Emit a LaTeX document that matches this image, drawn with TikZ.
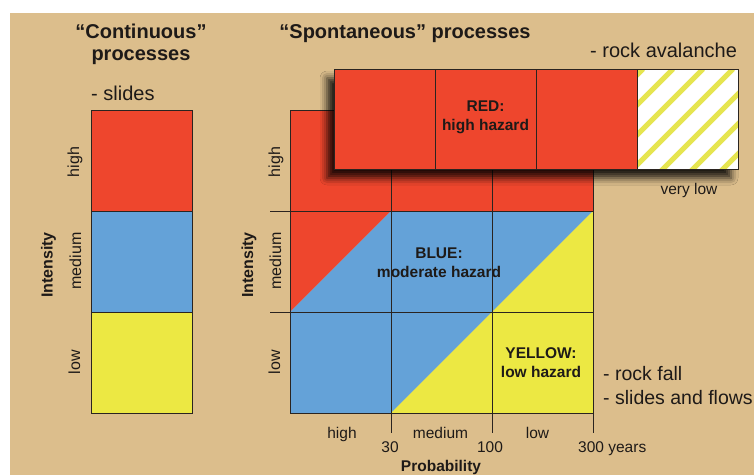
\documentclass[tikz,border=0pt]{standalone}
\usepackage{fontspec}
\setmainfont{Liberation Sans}
\usetikzlibrary{positioning,shadows.blur}
\definecolor{Sand}{HTML}{DCBE8C}
\definecolor{Ink}{HTML}{1E1A18}
\definecolor{GridInk}{HTML}{2A2420}
\definecolor{HazardRed}{HTML}{EE462D}
\definecolor{HazardBlue}{HTML}{64A2D8}
\definecolor{HazardYellow}{HTML}{ECE843}
\definecolor{StripeYellow}{HTML}{E6E550}
\tikzset{
  hazard cell/.style={minimum width=101pt, minimum height=101pt, inner sep=0pt, outer sep=0pt},
  grid line/.style={draw=GridInk, line width=0.9pt},
  avalanche box/.style={draw=GridInk, line width=0.9pt, fill=HazardRed,
    minimum width=404pt, minimum height=100pt, inner sep=0pt, outer sep=0pt,
    blur shadow={shadow xshift=-7pt, shadow yshift=-9pt, shadow blur radius=7pt, shadow opacity=85}},
  stripe cell/.style={draw=GridInk, line width=0.9pt, fill=white,
    minimum width=101pt, minimum height=100pt, inner sep=0pt, outer sep=0pt,
    path picture={
      \foreach \k in {0,...,6}
        \draw[StripeYellow, line width=5pt]
          ([xshift=6pt+\k*30pt]path picture bounding box.north west) -- ++(-104pt,-104pt);
    }},
  title text/.style={font=\bfseries\fontsize{20}{22}\selectfont, align=center, text=Ink, inner sep=0pt},
  process text/.style={font=\fontsize{20}{24}\selectfont, align=left, text=Ink, inner sep=0pt},
  level text/.style={font=\fontsize{15.5}{17}\selectfont, text=Ink, inner sep=0pt},
  side text/.style={font=\fontsize{16}{17}\selectfont, text=Ink, inner sep=0pt, rotate=90},
  axis title/.style={font=\bfseries\fontsize{15.5}{17}\selectfont, text=Ink, inner sep=0pt},
  zone text/.style={font=\bfseries\fontsize{15.5}{19}\selectfont, align=center, text=Ink, inner sep=0pt},
}

\begin{document}
\begin{tikzpicture}[x=1pt, y=-1pt]
  \useasboundingbox (0,0) rectangle (754,475);
  \clip (0,0) rectangle (754,475);
  \fill[white] (0,0) rectangle (754,475);
  \fill[Sand] (10,13) rectangle (754,475);

  % Titles.
  \node[title text, anchor=base] (contTitle) at (141,60) {“Continuous”\\processes};
  \node[title text, anchor=base] (spontTitle) at (405,38) {“Spontaneous” processes};

  % Continuous processes: one column of intensity classes.
  \node[hazard cell, grid line, fill=HazardRed] (contHigh) at (141.5,160.5) {};
  \node[hazard cell, grid line, fill=HazardBlue, below=0pt of contHigh] (contMedium) {};
  \node[hazard cell, grid line, fill=HazardYellow, below=0pt of contMedium] (contLow) {};
  \node[process text, anchor=base west] (slides) at (91,100) {- slides};

  \node[side text, anchor=base] (contHighLabel) at (79,162) {high};
  \node[side text, anchor=base] (contMediumLabel) at (81,261) {medium};
  \node[side text, anchor=base] (contLowLabel) at (80,362) {low};
  \node[axis title, rotate=90, anchor=base, font=\bfseries\fontsize{16}{17}\selectfont] (contIntensity) at (52.5,265) {Intensity};

  % Spontaneous processes: intensity against probability.
  \node[hazard cell] (g11) at (340.5,160.5) {};
  \node[hazard cell, right=0pt of g11] (g12) {};
  \node[hazard cell, right=0pt of g12] (g13) {};
  \node[hazard cell, below=0pt of g11] (g21) {};
  \node[hazard cell, right=0pt of g21] (g22) {};
  \node[hazard cell, right=0pt of g22] (g23) {};
  \node[hazard cell, below=0pt of g21] (g31) {};
  \node[hazard cell, right=0pt of g31] (g32) {};
  \node[hazard cell, right=0pt of g32] (g33) {};

  \fill[HazardRed] (g11.north west) -- (g13.north east) -- (g13.south east)
    -- (g22.north west) -- (g21.south west) -- cycle;
  \fill[HazardBlue] (g21.south west) -- (g22.north west) -- (g23.north east)
    -- (g32.south west) -- (g31.south west) -- cycle;
  \fill[HazardYellow] (g23.north east) -- (g33.south east) -- (g32.south west) -- cycle;

  \draw[grid line] (g11.north west) rectangle (g33.south east);
  \draw[grid line] ([xshift=-20pt]g21.north west) -- (g23.north east);
  \draw[grid line] ([xshift=-20pt]g31.north west) -- (g33.north east);
  \draw[grid line] (g12.north west) -- ([yshift=-20pt]g32.south west);
  \draw[grid line] (g13.north west) -- ([yshift=-20pt]g33.south west);
  \draw[grid line] (g13.north east) -- ([yshift=-20pt]g33.south east);

  \node[zone text, anchor=base] (blueLabel) at (439,277) {BLUE:\\moderate hazard};
  \node[zone text, anchor=base] (yellowLabel) at (541,377) {YELLOW:\\low hazard};

  \node[side text, anchor=base] (highLabel) at (280,162) {high};
  \node[side text, anchor=base] (mediumLabel) at (281,261) {medium};
  \node[side text, anchor=base] (lowLabel) at (280,362) {low};
  \node[axis title, rotate=90, anchor=base, font=\bfseries\fontsize{16}{17}\selectfont] (intensity) at (253,265) {Intensity};

  \node[level text, anchor=base] (probHigh) at (342,438) {high};
  \node[level text, anchor=base] (probMedium) at (440.5,438) {medium};
  \node[level text, anchor=base] (probLow) at (537.5,438) {low};
  \node[level text, anchor=base] (years30) at (390,452) {30};
  \node[level text, anchor=base] (years100) at (490,452) {100};
  \node[level text, anchor=base west] (years300) at (578,452) {300 years};
  \node[axis title, anchor=base] (probability) at (441,471) {Probability};

  \node[process text, anchor=base west, font=\fontsize{19.5}{24}\selectfont] (rockFall) at (603,404) {- rock fall\\- slides and flows};

  % Rock avalanche row lifted above the matrix.
  \node[avalanche box] (avalanche) at (536,119) {};
  \draw[grid line] ([xshift=101pt]avalanche.north west) -- ([xshift=101pt]avalanche.south west);
  \draw[grid line] ([xshift=202pt]avalanche.north west) -- ([xshift=202pt]avalanche.south west);
  \node[stripe cell] (veryLowCell) at ([xshift=-50.5pt]avalanche.east) {};
  \node[zone text, anchor=base] (redLabel) at (485.5,130) {RED:\\high hazard};
  \node[process text, anchor=base west] (rockAvalanche) at (590,57) {- rock avalanche};
  \node[level text, anchor=base] (veryLow) at (689,194) {very low};
\end{tikzpicture}
\end{document}
